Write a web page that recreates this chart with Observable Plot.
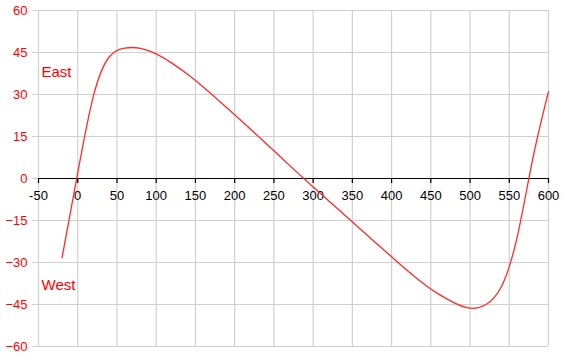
<!DOCTYPE html>
<html>
<head>
<meta charset="utf-8">
<script src="https://cdn.jsdelivr.net/npm/d3@7"></script>
<script src="https://cdn.jsdelivr.net/npm/@observablehq/plot@0.6"></script>
<style>
  html, body { margin: 0; padding: 0; background: #fff; }
  #chart svg { display: block; }
</style>
</head>
<body>
<div id="chart"></div>
<script>
const xValues = [-20, 0, 20, 40, 60, 80, 100, 120, 140, 160, 180, 200, 220, 240, 260, 280, 300, 320, 340, 360, 380, 400, 420, 440, 460, 480, 500, 520, 540, 560, 580, 600];
const yValues = [-28.3, 2, 29.5, 43.4, 46.6, 46.5, 44.5, 41.2, 37.2, 32.7, 27.8, 22.75, 17.65, 12.5, 7.3, 2.1, -3.0, -8.0, -13.0, -18.0, -23.0, -27.95, -32.85, -37.4, -41.3, -44.4, -46.3, -45.1, -38.6, -21, 7.1, 31];
const xTicks = [-50, 0, 50, 100, 150, 200, 250, 300, 350, 400, 450, 500, 550, 600];
const yTicks = [-60, -45, -30, -15, 0, 15, 30, 45, 60];
const sideLabels = ["East", "West"];
const sideValues = [38, -38];

const data = xValues.map((x, i) => ({x, y: yValues[i]}));
const sides = sideLabels.map((t, i) => ({t, y: sideValues[i]}));

const chart = Plot.plot({
  width: 564,
  height: 360,
  marginLeft: 38,
  marginRight: 16,
  marginTop: 10,
  marginBottom: 14,
  style: {fontFamily: "'Liberation Sans', Arial, sans-serif", fontSize: "13px", background: "#fff"},
  x: {domain: [-50, 600], axis: null},
  y: {domain: [-60, 60], axis: null},
  marks: [
    Plot.gridX({ticks: xTicks, stroke: "#d0d0d0", strokeOpacity: 1, strokeWidth: 1.2}),
    Plot.gridY({ticks: yTicks, stroke: "#d0d0d0", strokeOpacity: 1, strokeWidth: 1.2}),
    Plot.axisY({ticks: yTicks, tickSize: 6, tickPadding: 5, stroke: "#d0d0d0", fill: "#ff0000", fontSize: 13, label: null}),
    Plot.ruleY([0], {stroke: "#000", strokeWidth: 1.2}),
    Plot.ruleX(xTicks, {x: d => d, y1: 0, y2: 0, insetTop: 5, stroke: "#000", strokeWidth: 1.2}),
    Plot.text(xTicks, {x: d => d, y: 0, dy: 17, text: d => String(d), fill: "#000", fontSize: 13}),
    Plot.line(data, {x: "x", y: "y", curve: "natural", stroke: "#ff2a2a", strokeWidth: 1.3}),
    Plot.text(sides, {frameAnchor: "left", dx: 3, y: "y", text: "t", textAnchor: "start", fill: "#ff0000", fontSize: 15})
  ]
});
document.getElementById("chart").appendChild(chart);
</script>
</body>
</html>
